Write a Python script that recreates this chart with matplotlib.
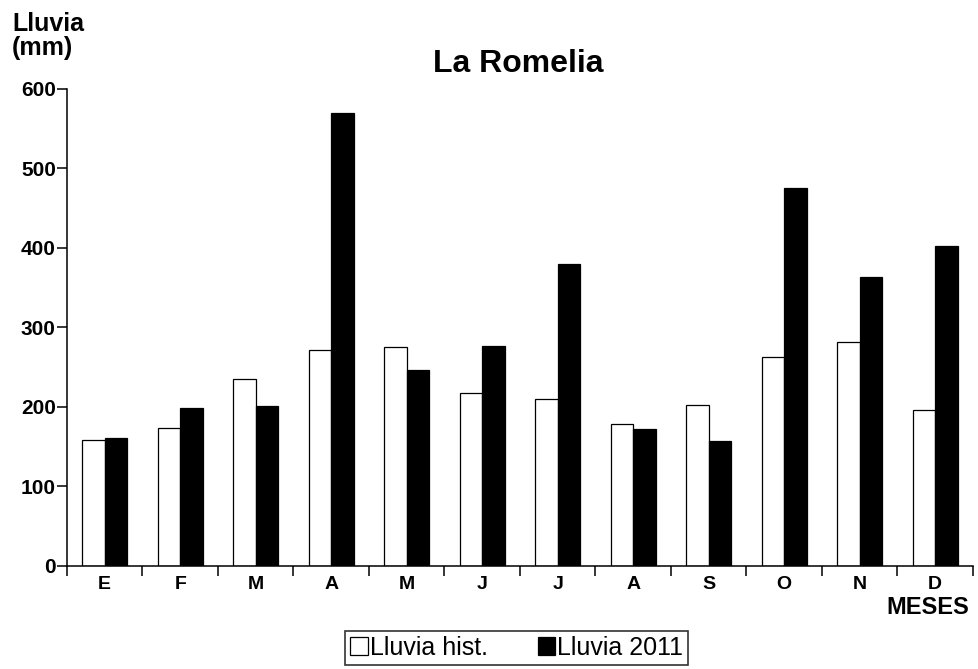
import numpy as np
import matplotlib
matplotlib.use('Agg')
import matplotlib.pyplot as plt

plt.rcParams['font.family'] = ['Liberation Sans', 'DejaVu Sans']

meses = ['E', 'F', 'M', 'A', 'M', 'J', 'J', 'A', 'S', 'O', 'N', 'D']
lluvia_hist = [158, 173, 235, 272, 276, 218, 210, 179, 203, 263, 282, 196]
lluvia_2011 = [161, 199, 201, 570, 246, 277, 380, 172, 157, 476, 364, 402]
yticks = [0, 100, 200, 300, 400, 500, 600]

fig = plt.figure(figsize=(9.79, 6.69), dpi=100)
ax = fig.add_axes([0.0684, 0.154, 0.9254, 0.713])

x = np.arange(len(meses))
w = 0.3
b1 = ax.bar(x - w / 2, lluvia_hist, w, color='white', edgecolor='black', linewidth=0.9, label='Lluvia hist.')
b2 = ax.bar(x + w / 2, lluvia_2011, w, color='black', edgecolor='black', linewidth=0.9, label='Lluvia 2011')

ax.set_xlim(-0.5, len(meses) - 0.5)
ax.set_ylim(0, 600)
ax.spines['top'].set_visible(False)
ax.spines['right'].set_visible(False)
ax.spines['left'].set_linewidth(1.1)
ax.spines['bottom'].set_linewidth(1.1)

ax.set_yticks(yticks)
ax.set_yticklabels([str(v) for v in yticks], fontsize=15, fontweight='bold')
ax.tick_params(axis='y', length=7, width=1.1, pad=1)

ax.set_xticks(x)
ax.set_xticklabels(meses, fontsize=14, fontweight='bold')
ax.tick_params(axis='x', which='major', length=0, pad=7)
ax.set_xticks(np.arange(len(meses) + 1) - 0.5, minor=True)
ax.tick_params(axis='x', which='minor', length=7, width=1.1)

fig.text(518 / 979, 1 - 71.7 / 669, 'La Romelia', ha='center', va='baseline',
         fontsize=23, fontweight='bold')
fig.text(12 / 979, 1 - 12 / 669, 'Lluvia\n(mm)', ha='left', va='top',
         fontsize=18, fontweight='bold', linespacing=1.0)
fig.text(969 / 979, 1 - 614 / 669, 'MESES', ha='right', va='baseline',
         fontsize=17, fontweight='bold')

leg = fig.legend(handles=[b1, b2], loc='center', bbox_to_anchor=(0.528, 0.032),
                 ncol=2, fontsize=18, frameon=True, fancybox=False,
                 handlelength=0.7, handleheight=0.7, handletextpad=0.08,
                 columnspacing=2.0, borderpad=0.2, borderaxespad=0)
leg.get_frame().set_edgecolor('black')
leg.get_frame().set_linewidth(1.2)

fig.savefig('out.png', dpi=100)
